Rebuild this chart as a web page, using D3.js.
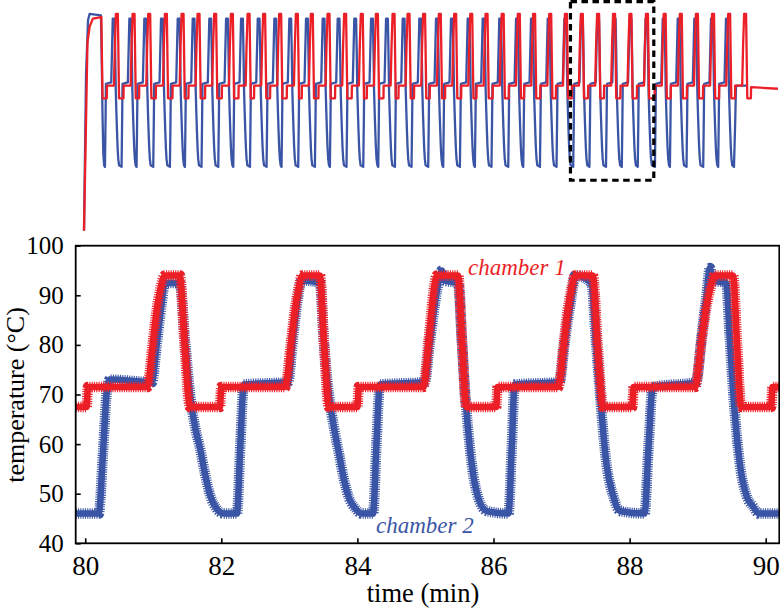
<!DOCTYPE html>
<html><head><meta charset="utf-8">
<script src="https://cdn.jsdelivr.net/npm/d3@7"></script>
<style>html,body{margin:0;padding:0;background:#fff;}svg{display:block;}
svg text{font-family:"Liberation Serif","Times New Roman",Times,serif !important;}</style>
</head><body>
<script>
// ---------- DATA ----------
// Bottom panel: chamber 1 (red) [time min, temperature °C]
const chamber1 = [
 [79.86,67.5],[80.02,67.5],[80.04,71.5],[80.91,71.5],[80.99,80],[81.05,87],[81.1,91],[81.17,94],[81.39,94],[81.46,80],[81.54,67.5],
 [81.98,67.5],[82.0,71.5],[82.94,71.5],[83.02,80],[83.08,87],[83.13,91],[83.19,94],[83.45,94],[83.51,80],[83.58,67.5],
 [84.0,67.5],[84.02,71.5],[84.97,71.5],[85.04,80],[85.09,87],[85.12,91],[85.17,94],[85.48,94],[85.54,80],[85.6,67.5],
 [86.04,67.5],[86.06,71.5],[86.95,71.5],[87.03,80],[87.09,87],[87.14,91],[87.2,94],[87.46,94],[87.53,80],[87.61,67.5],
 [88.04,67.5],[88.06,71.5],[88.96,71.5],[89.05,80],[89.12,87],[89.18,91],[89.25,94],[89.52,94],[89.58,80],[89.64,67.5],
 [90.08,67.5],[90.1,71.5],[90.2,71.5]
];
// Bottom panel: chamber 2 (blue)
const chamber2 = [
 [79.86,46],[80.2,46],[80.26,58],[80.32,71],[80.36,73],[80.98,72.5],[81.05,80],[81.12,88],[81.17,92.5],[81.39,92.5],
 [81.46,82],[81.54,70],[81.62,63],[81.69,59],[81.76,54],[81.84,49.5],[81.93,47],[82.03,46],
 [82.23,46],[82.28,60],[82.33,72],[82.98,72.5],[83.05,81],[83.12,89],[83.18,93],[83.45,92.5],
 [83.5,82],[83.58,70],[83.66,63],[83.73,58],[83.8,53],[83.88,49],[83.97,47],[84.06,46],
 [84.23,46],[84.28,60],[84.33,72],[84.99,72.5],[85.06,80],[85.17,91],[85.24,95],[85.27,93],[85.48,92.5],
 [85.53,82],[85.58,71],[85.68,56],[85.78,49],[85.9,46.5],
 [86.22,46],[86.27,60],[86.31,72],[86.97,72.5],[87.05,81],[87.15,90],[87.2,94],[87.44,92.5],
 [87.5,82],[87.56,71],[87.66,56],[87.76,49.5],[87.86,46.5],
 [88.22,46],[88.28,60],[88.34,71.5],[88.98,72.5],[89.06,82],[89.13,90],[89.18,95.5],[89.22,93],[89.42,92.5],
 [89.47,82],[89.52,71],[89.62,56],[89.72,49.5],[89.81,47.5],[89.9,46],[90.2,46]
];
const xTicks = [80, 82, 84, 86, 88, 90];
const yTicks = [40, 50, 60, 70, 80, 90, 100];

// Top panel (whole run): peak times read for each cycle, plus one cycle's shape
const topBluePeaks = [23.07,25.13,26.99,29.06,31.13,32.99,35.05,37.13,38.99,41.06,43.12,44.98,47.05,49.12,50.98,
 53.04,55.12,56.98,59.05,61.11,63.18,65.04,67.11,68.97,71.03,73.11,74.97,77.04,79.1,
 81.17,83.18,85.24,87.2,89.18,91.31,93.17,95.23,97.3,99.16];
const topRedPeaks = [23.48,25.55,27.49,29.56,31.63,33.61,35.67,37.75,39.82,41.75,43.74,45.81,47.67,49.74,51.8,
 53.87,55.74,57.81,59.67,61.6,63.55,65.45,67.45,69.35,71.35,73.35,75.25,77.25,79.2,
 81.17,83.19,85.17,87.2,89.25,91.45,93.45,95.45,97.45,99.45,101.43];
// cycle shape: [offset from peak (min), temperature]
const blueCycleShape = [[-0.97,46],[-0.9,60],[-0.85,72],[-0.19,72.5],[0,92.5],[0.22,92.5],[0.3,82],[0.37,70],
 [0.45,63],[0.52,57.5],[0.6,52],[0.68,48.5],[0.78,46.5]];
const redCycleShape = [[-1.15,67.5],[-1.13,71.5],[-0.26,71.5],[-0.15,84],[-0.02,94],[0.22,94],[0.37,67.5]];
// start-up (hot start) and end of run
const blueStart = [[19.5,26],[19.75,75],[20.0,92],[20.2,94],[21.6,93.5],[21.7,80],[21.8,62],[21.9,50],[22.0,46.5]];
const blueEnd = [[100.15,46],[100.3,60],[100.4,71.5],[101.9,71.5]];
const redStart = [[19.5,26],[19.93,85],[20.2,90],[20.6,92.5],[21.65,93],[21.8,67.5]];
const redEnd = [[102.25,67.5],[102.27,71],[105.6,70.5]];
const zoomBoxTime = [79.86, 90.2];
const zoomBoxTemp = [41.8, 97.8];

// ---------- CHART ----------
const W = 780, H = 608;
const RED = "#ec1f27", BLUE = "#3b55a6";
const FONT = "'Liberation Serif', 'Times New Roman', Times, serif";
const svg = d3.select("body").append("svg").attr("width", W).attr("height", H);

// top panel scales
const xTop = d3.scaleLinear().domain([19.5, 105.86]).range([84, 780]);
const yTop = d3.scaleLinear().domain([40, 100]).range([186, -5.3]);

function buildRun(start, peaks, shape, end) {
  const pts = start.slice();
  peaks.forEach(p => shape.forEach(([dt, v]) => pts.push([p + dt, v])));
  return pts.concat(end);
}
const topBlue = buildRun(blueStart, topBluePeaks, blueCycleShape, blueEnd);
const topRed = buildRun(redStart, topRedPeaks, redCycleShape, redEnd);

function drawTrace(g, gen, data, color, w, tex) {
  if (tex) g.append("path").attr("d", gen(data)).attr("fill", "none").attr("stroke", color)
    .attr("stroke-width", tex).attr("stroke-dasharray", "1.1,1.2");
  g.append("path").attr("d", gen(data)).attr("fill", "none").attr("stroke", color)
    .attr("stroke-width", w).attr("stroke-linejoin", "round");
}
const lineTop = d3.line().x(d => xTop(d[0])).y(d => yTop(d[1]));
const gTop = svg.append("g");
drawTrace(gTop, lineTop, topBlue, BLUE, 2.3, 0);
drawTrace(gTop, lineTop, topRed, RED, 2.3, 0);
gTop.append("rect")
  .attr("x", xTop(zoomBoxTime[0])).attr("y", yTop(zoomBoxTemp[1]))
  .attr("width", xTop(zoomBoxTime[1]) - xTop(zoomBoxTime[0]))
  .attr("height", yTop(zoomBoxTemp[0]) - yTop(zoomBoxTemp[1]))
  .attr("fill", "none").attr("stroke", "#000").attr("stroke-width", 3.2)
  .attr("stroke-dasharray", "6.5,4.5");

// bottom panel
const L = 75.7, R = 779.3, T = 245.7, B = 543.3;
const x = d3.scaleLinear().domain([79.86, 90.2]).range([L, R]);
const y = d3.scaleLinear().domain([40, 100]).range([B, T]);

svg.append("defs").append("clipPath").attr("id", "clip")
  .append("rect").attr("x", L).attr("y", T).attr("width", R - L).attr("height", B - T);

const line = d3.line().x(d => x(d[0])).y(d => y(d[1])).curve(d3.curveMonotoneX);
const gB = svg.append("g").attr("clip-path", "url(#clip)");
drawTrace(gB, line, chamber2, BLUE, 6.5, 10.5);
drawTrace(gB, line, chamber1, RED, 6.5, 10.5);

// axes
const xAxis = d3.axisBottom(x).tickValues(xTicks).tickSize(-5).tickPadding(13).tickFormat(d3.format("d"));
const yAxis = d3.axisLeft(y).tickValues(yTicks).tickSize(-5).tickPadding(12).tickFormat(d3.format("d"));
const gx = svg.append("g").attr("transform", `translate(0,${B})`).call(xAxis);
const gy = svg.append("g").attr("transform", `translate(${L},0)`).call(yAxis);
[gx, gy].forEach(g => {
  g.attr("font-family", null).style("font-family", FONT);
  g.select(".domain").remove();
  g.selectAll(".tick line").attr("stroke", "#000").attr("stroke-width", 1.6);
  g.selectAll(".tick text").style("font-family", FONT).attr("fill", "#000");
});
gx.attr("font-size", 27).selectAll(".tick text").attr("font-size", 27).attr("dy", "0.71em");
gy.attr("font-size", 25).selectAll(".tick text").attr("font-size", 25);
svg.append("rect").attr("x", L).attr("y", T).attr("width", R - L).attr("height", B - T)
  .attr("fill", "none").attr("stroke", "#000").attr("stroke-width", 1.8);

// titles
svg.append("text").attr("x", 423).attr("y", 602).attr("text-anchor", "middle")
  .style("font-family", FONT).attr("font-size", 26.5).text("time (min)");
svg.append("text").attr("transform", "translate(24,395) rotate(-90)").attr("text-anchor", "middle")
  .style("font-family", FONT).attr("font-size", 26).text("temperature (°C)");

// series labels
svg.append("text").attr("x", 468).attr("y", 275).style("font-family", FONT).attr("font-style", "italic")
  .attr("font-size", 23).attr("fill", RED).text("chamber 1");
svg.append("text").attr("x", 376).attr("y", 533).style("font-family", FONT).attr("font-style", "italic")
  .attr("font-size", 23).attr("fill", BLUE).text("chamber 2");
</script>
</body></html>
